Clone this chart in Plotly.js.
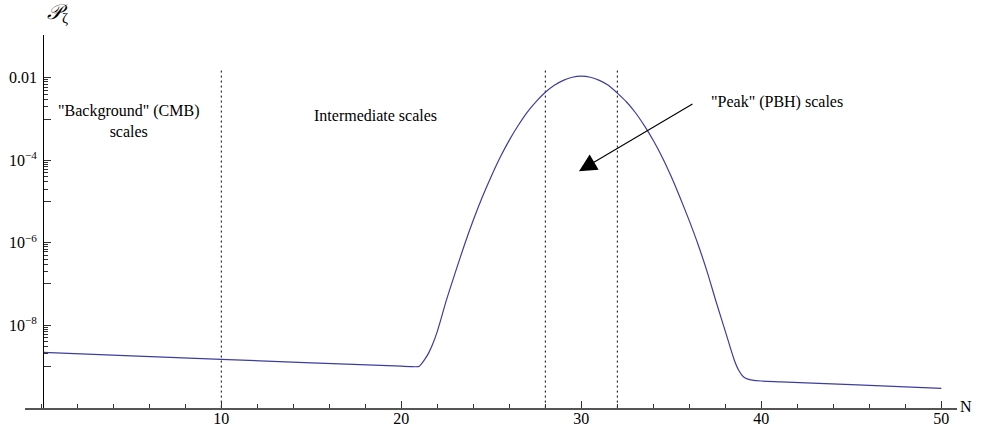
<!DOCTYPE html>
<html>
<head>
<meta charset="utf-8">
<script src="https://cdn.plot.ly/plotly-3.0.1.min.js"></script>
<style>html,body{margin:0;padding:0;background:#fff;}#chart{width:985px;height:429px;}</style>
</head>
<body>
<div id="chart"></div>
<script>
// e-folds N and power spectrum values
const nValues = [0.1, 5, 10, 15, 20, 20.5, 20.8, 21.0, 21.15, 21.3, 21.5, 21.75, 22.0, 22.5, 23.0, 23.5, 24.0, 24.5, 25.0, 25.5, 26.0, 26.5, 27.0, 27.5, 28.0, 28.5, 29.0, 29.5, 30.0, 30.5, 31.0, 31.5, 32.0, 32.5, 33.0, 33.5, 34.0, 34.5, 35.0, 35.5, 36.0, 36.5, 37.0, 37.5, 38.0, 38.5, 38.75, 39.0, 39.25, 39.5, 40, 41.1, 45, 50];
const powerValues = [2.19e-9, 1.80e-9, 1.48e-9, 1.22e-9, 1.01e-9, 9.9e-10, 9.8e-10, 1.01e-9, 1.2e-9, 1.48e-9, 2.04e-9, 3.55e-9, 7.08e-9, 3.98e-8, 1.905e-7, 8.71e-7, 3.55e-6, 1.29e-5, 4.12e-5, 1.20e-4, 3.09e-4, 7.08e-4, 1.48e-3, 2.69e-3, 4.47e-3, 6.61e-3, 8.71e-3, 1.035e-2, 1.096e-2, 1.035e-2, 8.71e-3, 6.61e-3, 4.27e-3, 2.63e-3, 1.445e-3, 6.92e-4, 3.02e-4, 1.175e-4, 3.98e-5, 1.20e-5, 3.39e-6, 8.71e-7, 1.905e-7, 3.55e-8, 7.08e-9, 1.41e-9, 7.94e-10, 5.62e-10, 4.90e-10, 4.62e-10, 4.42e-10, 4.22e-10, 3.59e-10, 2.92e-10];

// dotted boundaries between scale regions
const boundaryN = [10, 28, 32];
const boundaryY = [1e-10, 0.017];

// tick labels
const xTickVals = [10, 20, 30, 40, 50];
const xTickText = ['10', '20', '30', '40', '50'];
const yTickVals = [1e-9, 1e-8, 1e-7, 1e-6, 1e-5, 1e-4, 1e-3, 1e-2];
const yTickText = ['', '10<sup>\u22128</sup>', '', '10<sup>\u22126</sup>', '', '10<sup>\u22124</sup>', '', '0.01'];
const yMinorMant = [2, 3, 4, 5, 6, 7, 8, 9];
const yMinorDecades = [1e-9, 1e-7, 1e-5, 1e-3];

const yMinorVals = [];
yMinorDecades.forEach(d => yMinorMant.forEach(m => yMinorVals.push(m * d)));

const serif = 'Liberation Serif, Times New Roman, serif';

const traces = [];
boundaryN.forEach(n => {
  traces.push({
    x: [n, n], y: boundaryY, mode: 'lines', type: 'scatter',
    line: {color: '#000', width: 1, dash: '2px,3px'},
    hoverinfo: 'skip', showlegend: false
  });
});
traces.push({
  x: nValues, y: powerValues, mode: 'lines', type: 'scatter',
  line: {color: '#3d3d9e', width: 1.2, shape: 'spline', smoothing: 0.7},
  showlegend: false
});

const layout = {
  width: 985, height: 429,
  margin: {l: 25, r: 28, t: 35, b: 21},
  paper_bgcolor: '#fff', plot_bgcolor: '#fff',
  font: {family: serif, size: 16, color: '#000'},
  showlegend: false,
  xaxis: {
    range: [-0.906, 50.87], showgrid: false, zeroline: false,
    showline: true, linecolor: '#555', linewidth: 1.5,
    tickmode: 'array', tickvals: xTickVals, ticktext: xTickText,
    ticks: 'inside', ticklen: 7, tickwidth: 1, tickcolor: '#333',
    ticklabelstandoff: -5,
    minor: {tickmode: 'linear', tick0: 0, dtick: 2, ticks: 'inside', ticklen: 4, tickwidth: 1, tickcolor: '#333', showgrid: false},
    tickfont: {family: serif, size: 16, color: '#000'}
  },
  yaxis: {
    type: 'log', range: [-10.01, -0.96], showgrid: false, zeroline: false,
    anchor: 'free', position: 0.0194,
    showline: true, linecolor: '#000', linewidth: 1,
    tickmode: 'array', tickvals: yTickVals, ticktext: yTickText,
    ticks: 'inside', ticklen: 7, tickwidth: 1, tickcolor: '#333',
    ticklabelstandoff: 3,
    minor: {tickmode: 'array', tickvals: yMinorVals, ticks: 'inside', ticklen: 4, tickwidth: 1, tickcolor: '#333', showgrid: false},
    tickfont: {family: serif, size: 16, color: '#000'}
  },
  annotations: [
    {x: 0.0345, y: 1.058, xref: 'paper', yref: 'paper', text: '<i>𝒫</i><sub>ζ</sub>', showarrow: false, xanchor: 'center', yanchor: 'middle', font: {family: serif, size: 21}},
    {x: 1.0011, y: 0.003, xref: 'paper', yref: 'paper', text: 'N', showarrow: false, xanchor: 'left', yanchor: 'middle', font: {family: serif, size: 16}},
    {x: 4.88, y: -3.05, xref: 'x', yref: 'y', text: '"Background" (CMB)<br>scales', showarrow: false, xanchor: 'center', yanchor: 'middle', align: 'center', font: {family: serif, size: 16}},
    {x: 18.54, y: -2.905, xref: 'x', yref: 'y', text: 'Intermediate scales', showarrow: false, xanchor: 'center', yanchor: 'middle', font: {family: serif, size: 16}},
    {x: 40.87, y: -2.597, xref: 'x', yref: 'y', text: '"Peak" (PBH) scales', showarrow: false, xanchor: 'center', yanchor: 'middle', font: {family: serif, size: 16}},
    {x: 29.87, y: -4.263, xref: 'x', yref: 'y', text: '', showarrow: true, ax: 115, ay: -68, axref: 'pixel', ayref: 'pixel',
     arrowhead: 2, arrowsize: 3.2, arrowwidth: 1.1, arrowcolor: '#000', standoff: 0}
  ]
};

Plotly.newPlot('chart', traces, layout, {staticPlot: true, displayModeBar: false});
</script>
</body>
</html>
